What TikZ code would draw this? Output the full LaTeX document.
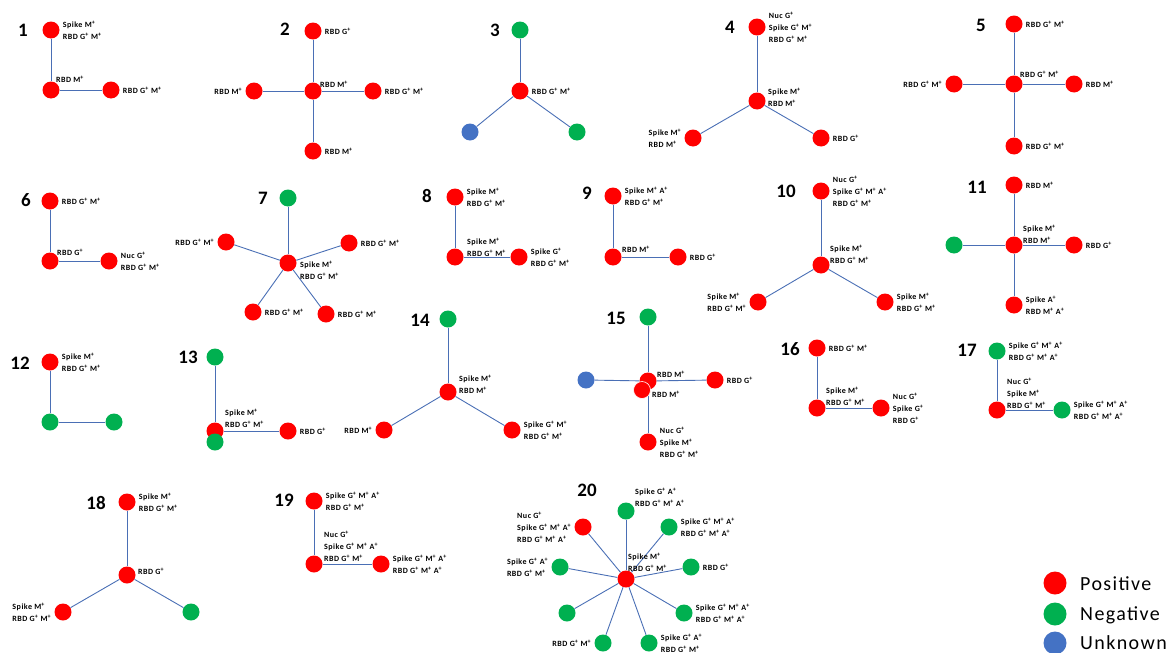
\documentclass[tikz,border=0pt]{standalone}
\usepackage{fontspec}
\setmainfont{Carlito}
\newfontfamily\lblfont[LetterSpace=6]{Carlito}
\newfontfamily\legfont[LetterSpace=7]{Carlito}
\usepackage{tikz}
\usetikzlibrary{positioning}
\definecolor{posred}{HTML}{FF0000}
\definecolor{neggreen}{HTML}{00B050}
\definecolor{unkblue}{HTML}{4472C4}
\definecolor{linkblue}{HTML}{4A6FB5}
\newcommand{\pp}{\textsuperscript{+}}

\tikzset{
  dot/.style={circle, inner sep=0pt, minimum size=17pt},
  posdot/.style={dot, fill=posred},
  negdot/.style={dot, fill=neggreen},
  unkdot/.style={dot, fill=unkblue},
  link/.style={draw=linkblue, line width=0.9pt},
  lbl/.style={font=\lblfont\bfseries\fontsize{8}{12}\selectfont, align=left, inner sep=0pt},
  num/.style={font=\bfseries\fontsize{19}{19}\selectfont, inner sep=0pt},
  legdot/.style={circle, inner sep=0pt, minimum size=23pt},
  legtxt/.style={font=\legfont\fontsize{20}{20}\selectfont, inner sep=0pt, anchor=west},
}

\begin{document}
\begin{tikzpicture}[x=1pt, y=-1pt]
    \useasboundingbox (0,0) rectangle (1167,653);

    % 1
    \begin{scope}[shift={(51,90)}]
        \node [num] (n1) at (-28,-60) {1};
        \node [posdot] (t1) at (0,-60) {};
        \node [posdot] (c1) at (0,0) {};
        \node [posdot] (r1) at (60,0) {};
        \draw [link] (t1) -- (c1);
        \draw [link] (c1) -- (r1);
        \node [lbl, right=3pt of t1] (lt1) {Spike M\pp\\RBD G\pp{} M\pp};
        \node [lbl, anchor=west] (lc1) at (5,-11) {RBD M\pp};
        \node [lbl, right=3pt of r1] (lr1) {RBD G\pp{} M\pp};
    \end{scope}

    % 2
    \begin{scope}[shift={(313,91)}]
        \node [num] (n2) at (-28,-62) {2};
        \node [posdot] (t2) at (0,-60) {};
        \node [posdot] (c2) at (0,0) {};
        \node [posdot] (l2) at (-59,0) {};
        \node [posdot] (r2) at (60,0) {};
        \node [posdot] (b2) at (0,60) {};
        \foreach \n in {t2,l2,r2,b2} \draw [link] (c2) -- (\n);
        \node [lbl, right=3pt of t2] (lt2) {RBD G\pp};
        \node [lbl, anchor=west] (lc2) at (7,-7) {RBD M\pp};
        \node [lbl, left=3pt of l2] (ll2) {RBD M\pp};
        \node [lbl, right=3pt of r2] (lr2) {RBD G\pp{} M\pp};
        \node [lbl, right=3pt of b2] (lb2) {RBD M\pp};
    \end{scope}

    % 3
    \begin{scope}[shift={(520,91)}]
        \node [num] (n3) at (-25,-61) {3};
        \node [negdot] (t3) at (0,-61) {};
        \node [posdot] (c3) at (0,0) {};
        \node [unkdot] (l3) at (-50,41) {};
        \node [negdot] (r3) at (57,41) {};
        \foreach \n in {t3,l3,r3} \draw [link] (c3) -- (\n);
        \node [lbl, right=3pt of c3] (lc3) {RBD G\pp{} M\pp};
    \end{scope}

    % 4
    \begin{scope}[shift={(757,101)}]
        \node [num] (n4) at (-27,-74) {4};
        \node [posdot] (t4) at (0,-74) {};
        \node [posdot] (c4) at (0,0) {};
        \node [posdot] (l4) at (-64,37) {};
        \node [posdot] (r4) at (64,37) {};
        \foreach \n in {t4,l4,r4} \draw [link] (c4) -- (\n);
        \node [lbl, right=3pt of t4] (lt4) {Nuc G\pp\\Spike G\pp{} M\pp\\RBD G\pp{} M\pp};
        \node [lbl, anchor=west] (lc4) at (11,-4) {Spike M\pp\\RBD M\pp};
        \node [lbl, left=3pt of l4] (ll4) {Spike M\pp\\RBD M\pp};
        \node [lbl, right=3pt of r4] (lr4) {RBD G\pp};
    \end{scope}

    % 5
    \begin{scope}[shift={(1014,84)}]
        \node [num] (n5) at (-33,-59) {5};
        \node [posdot] (t5) at (0,-60) {};
        \node [posdot] (c5) at (0,0) {};
        \node [posdot] (l5) at (-60,0) {};
        \node [posdot] (r5) at (60,0) {};
        \node [posdot] (b5) at (0,62) {};
        \foreach \n in {t5,l5,r5,b5} \draw [link] (c5) -- (\n);
        \node [lbl, right=3pt of t5] (lt5) {RBD G\pp{} M\pp};
        \node [lbl, anchor=west] (lc5) at (6,-10) {RBD G\pp{} M\pp};
        \node [lbl, left=3pt of l5] (ll5) {RBD G\pp{} M\pp};
        \node [lbl, right=3pt of r5] (lr5) {RBD M\pp};
        \node [lbl, right=3pt of b5] (lb5) {RBD G\pp{} M\pp};
    \end{scope}

    % 6
    \begin{scope}[shift={(50,261)}]
        \node [num] (n6) at (-24,-61) {6};
        \node [posdot] (t6) at (0,-60) {};
        \node [posdot] (c6) at (0,0) {};
        \node [posdot] (r6) at (59,0) {};
        \draw [link] (t6) -- (c6);
        \draw [link] (c6) -- (r6);
        \node [lbl, right=3pt of t6] (lt6) {RBD G\pp{} M\pp};
        \node [lbl, anchor=west] (lc6) at (7,-9) {RBD G\pp};
        \node [lbl, right=3pt of r6] (lr6) {Nuc G\pp\\RBD G\pp{} M\pp};
    \end{scope}

    % 7
    \begin{scope}[shift={(288,263)}]
        \node [num] (n7) at (-25,-65) {7};
        \node [negdot] (t7) at (0,-65) {};
        \node [posdot] (c7) at (0,0) {};
        \node [posdot] (a7) at (-62,-21) {};
        \node [posdot] (b7) at (61,-20) {};
        \node [posdot] (d7) at (-35,49) {};
        \node [posdot] (e7) at (38,51) {};
        \foreach \n in {t7,a7,b7,d7,e7} \draw [link] (c7) -- (\n);
        \node [lbl, anchor=west] (lc7) at (12,7) {Spike M\pp\\RBD G\pp{} M\pp};
        \node [lbl, left=3pt of a7] (la7) {RBD G\pp{} M\pp};
        \node [lbl, right=3pt of b7] (lb7) {RBD G\pp{} M\pp};
        \node [lbl, right=3pt of d7] (ld7) {RBD G\pp{} M\pp};
        \node [lbl, right=3pt of e7] (le7) {RBD G\pp{} M\pp};
    \end{scope}

    % 8
    \begin{scope}[shift={(455,257)}]
        \node [num] (n8) at (-28,-61) {8};
        \node [posdot] (t8) at (0,-60) {};
        \node [posdot] (c8) at (0,0) {};
        \node [posdot] (r8) at (64,0) {};
        \draw [link] (t8) -- (c8);
        \draw [link] (c8) -- (r8);
        \node [lbl, right=3pt of t8] (lt8) {Spike M\pp\\RBD G\pp{} M\pp};
        \node [lbl, anchor=west] (lc8) at (12,-10) {Spike M\pp\\RBD G\pp{} M\pp};
        \node [lbl, right=3pt of r8] (lr8) {Spike G\pp\\RBD G\pp{} M\pp};
    \end{scope}

    % 9
    \begin{scope}[shift={(613,257)}]
        \node [num] (n9) at (-26,-64) {9};
        \node [posdot] (t9) at (0,-61) {};
        \node [posdot] (c9) at (0,0) {};
        \node [posdot] (r9) at (65,0) {};
        \draw [link] (t9) -- (c9);
        \draw [link] (c9) -- (r9);
        \node [lbl, right=3pt of t9] (lt9) {Spike M\pp{} A\pp\\RBD G\pp{} M\pp};
        \node [lbl, anchor=west] (lc9) at (9,-8) {RBD M\pp};
        \node [lbl, right=3pt of r9] (lr9) {RBD G\pp};
    \end{scope}

    % 10
    \begin{scope}[shift={(821,265)}]
        \node [num] (n10) at (-35,-74) {10};
        \node [posdot] (t10) at (0,-74) {};
        \node [posdot] (c10) at (0,0) {};
        \node [posdot] (l10) at (-63,37) {};
        \node [posdot] (r10) at (64,37) {};
        \foreach \n in {t10,l10,r10} \draw [link] (c10) -- (\n);
        \node [lbl, right=3pt of t10] (lt10) {Nuc G\pp\\Spike G\pp{} M\pp{} A\pp\\RBD G\pp{} M\pp};
        \node [lbl, anchor=west] (lc10) at (9,-11) {Spike M\pp\\RBD G\pp{} M\pp};
        \node [lbl, left=3pt of l10] (ll10) {Spike M\pp\\RBD G\pp{} M\pp};
        \node [lbl, right=3pt of r10] (lr10) {Spike M\pp\\RBD G\pp{} M\pp};
    \end{scope}

    % 11
    \begin{scope}[shift={(1014,245)}]
        \node [num] (n11) at (-37,-58) {11};
        \node [posdot] (t11) at (0,-60) {};
        \node [posdot] (c11) at (0,0) {};
        \node [negdot] (l11) at (-60,0) {};
        \node [posdot] (r11) at (60,0) {};
        \node [posdot] (b11) at (0,60) {};
        \foreach \n in {t11,l11,r11,b11} \draw [link] (c11) -- (\n);
        \node [lbl, right=3pt of t11] (lt11) {RBD M\pp};
        \node [lbl, anchor=west] (lc11) at (9,-11) {Spike M\pp\\RBD M\pp};
        \node [lbl, right=3pt of r11] (lr11) {RBD G\pp};
        \node [lbl, right=3pt of b11] (lb11) {Spike A\pp\\RBD M\pp{} A\pp};
    \end{scope}

    % 12
    \begin{scope}[shift={(50,422)}]
        \node [num] (n12) at (-30,-59) {12};
        \node [posdot] (t12) at (0,-60) {};
        \node [negdot] (c12) at (0,0) {};
        \node [negdot] (r12) at (64,0) {};
        \draw [link] (t12) -- (c12);
        \draw [link] (c12) -- (r12);
        \node [lbl, right=3pt of t12] (lt12) {Spike M\pp\\RBD G\pp{} M\pp};
    \end{scope}

    % 13
    \begin{scope}[shift={(215,431)}]
        \node [num] (n13) at (-27,-74) {13};
        \node [negdot] (t13) at (0,-74) {};
        \node [posdot] (c13) at (0,0) {};
        \node [negdot] (d13) at (0,11) {};
        \node [posdot] (r13) at (73,0) {};
        \draw [link] (t13) -- (c13);
        \draw [link] (c13) -- (r13);
        \node [lbl, anchor=west] (lc13) at (10,-13) {Spike M\pp\\RBD G\pp{} M\pp};
        \node [lbl, right=3pt of r13] (lr13) {RBD G\pp};
    \end{scope}

    % 14
    \begin{scope}[shift={(448,392)}]
        \node [num] (n14) at (-28,-72) {14};
        \node [negdot] (t14) at (0,-73) {};
        \node [posdot] (c14) at (0,0) {};
        \node [posdot] (l14) at (-64,38) {};
        \node [posdot] (r14) at (64,38) {};
        \foreach \n in {t14,l14,r14} \draw [link] (c14) -- (\n);
        \node [lbl, anchor=west] (lc14) at (11,-8) {Spike M\pp\\RBD M\pp};
        \node [lbl, left=3pt of l14] (ll14) {RBD M\pp};
        \node [lbl, right=3pt of r14] (lr14) {Spike G\pp{} M\pp\\RBD G\pp{} M\pp};
    \end{scope}

    % 15
    \begin{scope}[shift={(648,381)}]
        \node [num] (n15) at (-32,-63) {15};
        \node [negdot] (t15) at (0,-64) {};
        \node [posdot] (c15) at (0,0) {};
        \node [unkdot] (l15) at (-62,-1) {};
        \node [posdot] (r15) at (67,-1) {};
        \node [posdot] (b15) at (0,61) {};
        \foreach \n in {t15,l15,r15,b15} \draw [link] (c15) -- (\n);
        \node [posdot, draw=white, line width=0.6pt] (d15) at (-6,9) {};
        \node [lbl, anchor=west] (lc15) at (9,-7) {RBD M\pp};
        \node [lbl, anchor=west] (ld15) at (4,13) {RBD M\pp};
        \node [lbl, right=3pt of r15] (lr15) {RBD G\pp};
        \node [lbl, right=3pt of b15] (lb15) {Nuc G\pp\\Spike M\pp\\RBD G\pp{} M\pp};
    \end{scope}

    % 16
    \begin{scope}[shift={(817,408)}]
        \node [num] (n16) at (-27,-59) {16};
        \node [posdot] (t16) at (0,-60) {};
        \node [posdot] (c16) at (0,0) {};
        \node [posdot] (r16) at (64,0) {};
        \draw [link] (t16) -- (c16);
        \draw [link] (c16) -- (r16);
        \node [lbl, right=3pt of t16] (lt16) {RBD G\pp{} M\pp};
        \node [lbl, anchor=west] (lc16) at (9,-12) {Spike M\pp\\RBD G\pp{} M\pp};
        \node [lbl, right=3pt of r16] (lr16) {Nuc G\pp\\Spike G\pp\\RBD G\pp};
    \end{scope}

    % 17
    \begin{scope}[shift={(997,410)}]
        \node [num] (n17) at (-30,-60) {17};
        \node [negdot] (t17) at (0,-59) {};
        \node [posdot] (c17) at (0,0) {};
        \node [negdot] (r17) at (65,0) {};
        \draw [link] (t17) -- (c17);
        \draw [link] (c17) -- (r17);
        \node [lbl, right=3pt of t17] (lt17) {Spike G\pp{} M\pp{} A\pp\\RBD G\pp{} M\pp{} A\pp};
        \node [lbl, anchor=west] (lc17) at (10,-17) {Nuc G\pp\\Spike M\pp\\RBD G\pp{} M\pp};
        \node [lbl, right=3pt of r17] (lr17) {Spike G\pp{} M\pp{} A\pp\\RBD G\pp{} M\pp{} A\pp};
    \end{scope}

    % 18
    \begin{scope}[shift={(127,575)}]
        \node [num] (n18) at (-31,-72) {18};
        \node [posdot] (t18) at (0,-73) {};
        \node [posdot] (c18) at (0,0) {};
        \node [posdot] (l18) at (-64,37) {};
        \node [negdot] (r18) at (64,37) {};
        \foreach \n in {t18,l18,r18} \draw [link] (c18) -- (\n);
        \node [lbl, right=3pt of t18] (lt18) {Spike M\pp\\RBD G\pp{} M\pp};
        \node [lbl, anchor=west] (lc18) at (11,-4) {RBD G\pp};
        \node [lbl, left=3pt of l18] (ll18) {Spike M\pp\\RBD G\pp{} M\pp};
    \end{scope}

    % 19
    \begin{scope}[shift={(314,564)}]
        \node [num] (n19) at (-30,-64) {19};
        \node [posdot] (t19) at (0,-63) {};
        \node [posdot] (c19) at (0,0) {};
        \node [posdot] (r19) at (67,0) {};
        \draw [link] (t19) -- (c19);
        \draw [link] (c19) -- (r19);
        \node [lbl, right=3pt of t19] (lt19) {Spike G\pp{} M\pp{} A\pp\\RBD G\pp{} M\pp};
        \node [lbl, anchor=west] (lc19) at (10,-18) {Nuc G\pp\\Spike G\pp{} M\pp{} A\pp\\RBD G\pp{} M\pp};
        \node [lbl, right=3pt of r19] (lr19) {Spike G\pp{} M\pp{} A\pp\\RBD G\pp{} M\pp{} A\pp};
    \end{scope}

    % 20
    \begin{scope}[shift={(626,579)}]
        \node [num] (n20) at (-39,-89) {20};
        \node [posdot] (c20) at (0,0) {};
        \node [posdot] (a20) at (-43,-52) {};
        \node [negdot] (b20) at (0,-68) {};
        \node [negdot] (d20) at (43,-52) {};
        \node [negdot] (e20) at (65,-12) {};
        \node [negdot] (f20) at (58,34) {};
        \node [negdot] (g20) at (23,64) {};
        \node [negdot] (h20) at (-23,64) {};
        \node [negdot] (i20) at (-59,34) {};
        \node [negdot] (j20) at (-66,-12) {};
        \foreach \n in {a20,b20,d20,e20,f20,g20,h20,i20,j20} \draw [link] (c20) -- (\n);
        \node [lbl, anchor=west] (lc20) at (2,-17) {Spike M\pp\\RBD G\pp{} M\pp};
        \node [lbl, left=3pt of a20] (la20) {Nuc G\pp\\Spike G\pp{} M\pp{} A\pp\\RBD G\pp{} M\pp{} A\pp};
        \node [lbl, anchor=west] (lb20) at (9,-82) {Spike G\pp{} A\pp\\RBD G\pp{} M\pp{} A\pp};
        \node [lbl, right=3pt of d20] (ld20) {Spike G\pp{} M\pp{} A\pp\\RBD G\pp{} M\pp{} A\pp};
        \node [lbl, right=3pt of e20] (le20) {RBD G\pp};
        \node [lbl, right=3pt of f20] (lf20) {Spike G\pp{} M\pp{} A\pp\\RBD G\pp{} M\pp{} A\pp};
        \node [lbl, right=3pt of g20] (lg20) {Spike G\pp{} A\pp\\RBD G\pp{} M\pp};
        \node [lbl, left=3pt of h20] (lh20) {RBD G\pp{} M\pp};
        \node [lbl, left=3pt of j20] (lj20) {Spike G\pp{} A\pp\\RBD G\pp{} M\pp};
    \end{scope}

    % legend
    \node [legdot, fill=posred] (kpos) at (1055,583) {};
    \node [legdot, fill=neggreen] (kneg) at (1055,614) {};
    \node [legdot, fill=unkblue] (kunk) at (1055,643) {};
    \node [legtxt] (tpos) at (1080,584) {Positive};
    \node [legtxt] (tneg) at (1080,615) {Negative};
    \node [legtxt] (tunk) at (1080,643) {Unknown};
\end{tikzpicture}
\end{document}
